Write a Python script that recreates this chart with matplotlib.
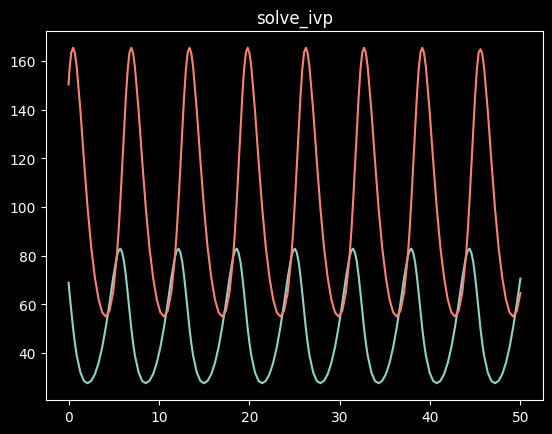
import matplotlib
matplotlib.use("Agg")
import matplotlib.pyplot as plt

# time points (adaptive-looking output, one block per cycle)
t = [
    0.00, 0.10, 0.30,
    0.50, 0.70, 0.90, 1.31, 1.71, 2.11, 2.51, 2.92, 3.32, 3.72, 4.12, 4.53, 4.93, 5.33, 5.53, 5.73, 5.93, 6.14, 6.34, 6.54, 6.74,
    6.94, 7.14, 7.34, 7.75, 8.15, 8.55, 8.95, 9.36, 9.76, 10.16, 10.56, 10.97, 11.37, 11.77, 11.97, 12.17, 12.37, 12.58, 12.78, 12.98, 13.18,
    13.38, 13.58, 13.78, 14.19, 14.59, 14.99, 15.39, 15.80, 16.20, 16.60, 17.00, 17.41, 17.81, 18.21, 18.41, 18.61, 18.81, 19.02, 19.22, 19.42, 19.62,
    19.82, 20.02, 20.22, 20.63, 21.03, 21.43, 21.83, 22.24, 22.64, 23.04, 23.44, 23.85, 24.25, 24.65, 24.85, 25.05, 25.25, 25.46, 25.66, 25.86, 26.06,
    26.26, 26.46, 26.66, 27.07, 27.47, 27.87, 28.27, 28.68, 29.08, 29.48, 29.88, 30.29, 30.69, 31.09, 31.29, 31.49, 31.69, 31.90, 32.10, 32.30, 32.50,
    32.70, 32.90, 33.10, 33.51, 33.91, 34.31, 34.71, 35.12, 35.52, 35.92, 36.32, 36.73, 37.13, 37.53, 37.73, 37.93, 38.13, 38.34, 38.54, 38.74, 38.94,
    39.14, 39.34, 39.54, 39.95, 40.35, 40.75, 41.15, 41.56, 41.96, 42.36, 42.76, 43.17, 43.57, 43.97, 44.17, 44.37, 44.57, 44.78, 44.98, 45.18, 45.38,
    45.58, 45.78, 45.98, 46.39, 46.79, 47.19, 47.59, 48.00, 48.40, 48.80, 49.20, 49.61, 50.00,
]

prey = [
    68.8, 64.6, 57.1,
    50.0, 43.9, 38.9, 31.9, 28.4, 27.5, 28.5, 31.3, 35.9, 42.3, 50.6, 60.4, 70.8, 79.5, 82.0, 82.8, 81.2, 77.4, 71.6, 64.6, 57.1,
    50.0, 43.9, 38.9, 31.9, 28.4, 27.5, 28.5, 31.3, 35.9, 42.3, 50.6, 60.4, 70.8, 79.5, 82.0, 82.8, 81.2, 77.4, 71.6, 64.6, 57.1,
    50.0, 43.9, 38.9, 31.9, 28.4, 27.5, 28.5, 31.3, 35.9, 42.3, 50.6, 60.4, 70.8, 79.5, 82.0, 82.8, 81.2, 77.4, 71.6, 64.6, 57.1,
    50.0, 43.9, 38.9, 31.9, 28.4, 27.5, 28.5, 31.3, 35.9, 42.3, 50.6, 60.4, 70.8, 79.5, 82.0, 82.8, 81.2, 77.4, 71.6, 64.6, 57.1,
    50.0, 43.9, 38.9, 31.9, 28.4, 27.5, 28.5, 31.3, 35.9, 42.3, 50.6, 60.4, 70.8, 79.5, 82.0, 82.8, 81.2, 77.4, 71.6, 64.6, 57.1,
    50.0, 43.9, 38.9, 31.9, 28.4, 27.5, 28.5, 31.3, 35.9, 42.3, 50.6, 60.4, 70.8, 79.5, 82.0, 82.8, 81.2, 77.4, 71.6, 64.6, 57.1,
    50.0, 43.9, 38.9, 31.9, 28.4, 27.5, 28.5, 31.3, 35.9, 42.3, 50.6, 60.4, 70.8, 79.5, 82.0, 82.8, 81.2, 77.4, 71.6, 64.6, 57.1,
    50.0, 43.9, 38.9, 31.9, 28.4, 27.5, 28.5, 31.3, 35.9, 42.3, 50.6, 60.4, 70.5,
]

predator = [
    150.3, 156.5, 163.5,
    165.4, 163.2, 157.5, 139.5, 118.7, 99.3, 83.1, 70.7, 61.9, 56.6, 54.9, 57.3, 64.9, 79.4, 89.9, 102.5, 116.7, 131.5, 145.3, 156.5, 163.5,
    165.4, 163.2, 157.5, 139.5, 118.7, 99.3, 83.1, 70.7, 61.9, 56.6, 54.9, 57.3, 64.9, 79.4, 89.9, 102.5, 116.7, 131.5, 145.3, 156.5, 163.5,
    165.4, 163.2, 157.5, 139.5, 118.7, 99.3, 83.1, 70.7, 61.9, 56.6, 54.9, 57.3, 64.9, 79.4, 89.9, 102.5, 116.7, 131.5, 145.3, 156.5, 163.5,
    165.4, 163.2, 157.5, 139.5, 118.7, 99.3, 83.1, 70.7, 61.9, 56.6, 54.9, 57.3, 64.9, 79.4, 89.9, 102.5, 116.7, 131.5, 145.3, 156.5, 163.5,
    165.4, 163.2, 157.5, 139.5, 118.7, 99.3, 83.1, 70.7, 61.9, 56.6, 54.9, 57.3, 64.9, 79.4, 89.9, 102.5, 116.7, 131.5, 145.3, 156.5, 163.5,
    165.4, 163.2, 157.5, 139.5, 118.7, 99.3, 83.1, 70.7, 61.9, 56.6, 54.9, 57.3, 64.9, 79.4, 89.9, 102.5, 116.7, 131.5, 145.3, 156.5, 163.5,
    165.4, 163.2, 157.5, 139.5, 118.7, 99.3, 83.1, 70.7, 61.9, 56.6, 54.9, 57.3, 64.9, 79.4, 89.9, 102.5, 116.7, 131.5, 145.3, 156.5, 163.5,
    164.8, 162.8, 157.3, 139.5, 118.7, 99.3, 83.1, 70.7, 61.9, 56.6, 54.9, 57.3, 64.6,
]

plt.style.use("dark_background")
fig = plt.figure(figsize=(5.52, 4.35), dpi=100)
ax = fig.add_axes([46 / 552, 34 / 435, 497 / 552, 369 / 435])

ax.plot(t, prey, color="#8dd3c7")
ax.plot(t, predator, color="#fa8174")
ax.set_title("solve_ivp")

fig.savefig("out.png", dpi=100)
